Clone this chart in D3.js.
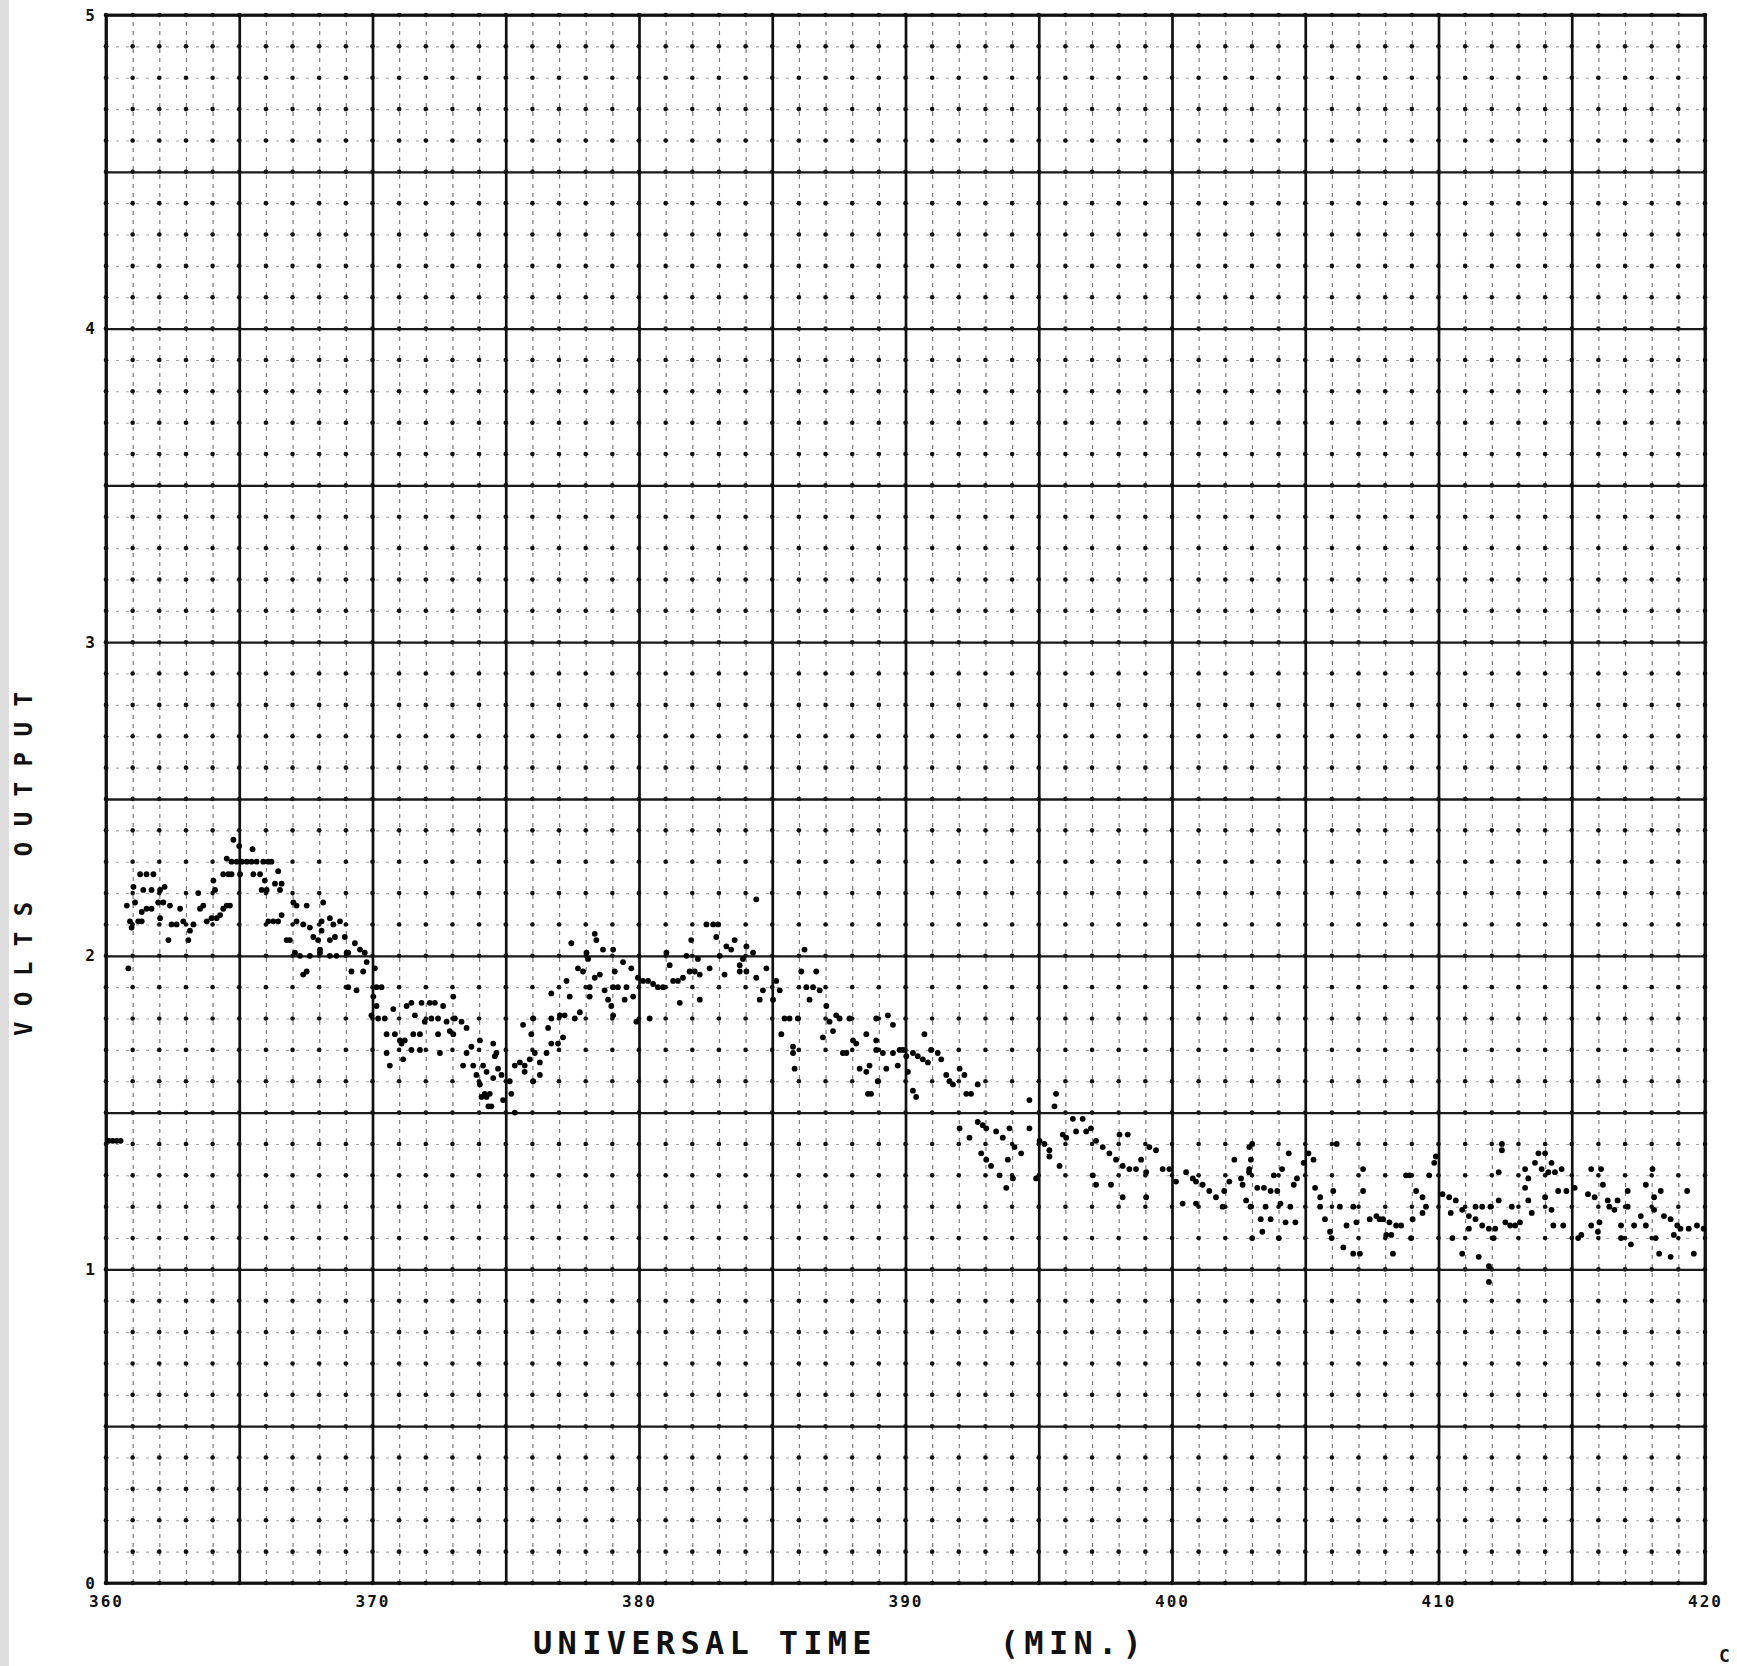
<!DOCTYPE html>
<html>
<head>
<meta charset="utf-8">
<script src="https://cdn.jsdelivr.net/npm/d3@7"></script>
<style>
  body { margin: 0; background: #fff; }
  svg { display: block; }
  .vminor line { stroke: #7a7a7a; stroke-width: 1.2; stroke-dasharray: 4,5; }
  .hminor line { stroke: #a8a8a8; stroke-width: 1.1; stroke-dasharray: 3,7; }
  .vmajor line { stroke: #111; stroke-width: 2.7; }
  .hmajor line { stroke: #1a1a1a; stroke-width: 2.3; }
  .domain { display: none; }
  .lbl text { font-family: "DejaVu Sans Mono", monospace; font-weight: bold; font-size: 16px; fill: #111; letter-spacing: 2px; }
  .title { font-family: "DejaVu Sans Mono", monospace; font-weight: bold; fill: #111; }
</style>
</head>
<body>
<div class="container"></div>
<script>
// tick labels
var xTickLabels = [360, 370, 380, 390, 400, 410, 420];
var yTickLabels = [0, 1, 2, 3, 4, 5];

// samples, [minute, volts]
var run360 = [
  [360.10,1.41],[360.25,1.41],[360.40,1.41],[360.55,1.41],
  [360.78,2.16],[360.84,1.96],[360.90,2.11],[360.96,2.09],[361.03,2.22],[361.09,2.17],[361.21,2.11],[361.28,2.26],
  [361.34,2.14],[361.34,2.11],[361.40,2.21],[361.52,2.26],[361.52,2.15],[361.71,2.21],[361.71,2.15],[361.78,2.26],
  [361.96,2.17],[362.03,2.21],[362.03,2.12],[362.15,2.17],[362.20,2.22],[362.34,2.05],[362.40,2.16],[362.46,2.10],
  [362.65,2.10],[362.78,2.15],[362.90,2.11],[363.09,2.05],[363.15,2.08],[363.28,2.10],[363.46,2.20],[363.53,2.15],
  [363.65,2.16],[363.78,2.11],[363.96,2.12],[364.03,2.24],[364.09,2.21],[364.15,2.12],[364.28,2.13],[364.40,2.15],
  [364.40,2.26],[364.53,2.16],[364.65,2.16],
  [364.53,2.31],[364.71,2.30],[364.90,2.30],[365.09,2.30],[365.28,2.30],[365.46,2.30],[365.65,2.30],[365.90,2.30],
  [366.09,2.30],[366.21,2.30],[364.78,2.37],[365.00,2.35],[365.50,2.34],[364.59,2.26],[364.71,2.26],[365.03,2.26],
  [365.53,2.26],[365.78,2.26],[365.96,2.24],[366.46,2.27],
  [365.84,2.21],[366.03,2.21],[366.34,2.23],[366.59,2.23],[366.53,2.21],[367.03,2.17],[367.15,2.16],[367.53,2.16],
  [368.15,2.17],[366.59,2.13],[366.09,2.11],[366.28,2.11],[366.46,2.11],[367.15,2.11],[367.40,2.10],[367.65,2.09],
  [368.09,2.11],[368.40,2.12],[368.78,2.11],[368.53,2.10],[366.78,2.05],[366.90,2.05],[367.78,2.06],[367.96,2.05],
  [368.09,2.08],[368.40,2.05],[368.59,2.06],[368.96,2.06],[369.34,2.04],[369.53,2.02],[369.71,2.01],[367.09,2.01],
  [367.28,2.00],[367.65,2.00],[368.03,2.01],[368.40,2.00],[368.65,2.00],[369.03,2.01],[368.03,2.02],[367.40,1.94],
  [367.53,1.95],[369.09,2.01],[369.21,1.95],[369.09,1.90],[369.40,1.89],[369.65,1.95],[369.78,1.98]
];

var run370 = [
  [370.09,1.96],[370.15,1.90],[370.34,1.90],[370.03,1.87],[370.15,1.84],[369.96,1.81],[370.21,1.80],[370.46,1.80],
  [370.53,1.75],[370.78,1.83],[370.84,1.75],[371.03,1.73],[371.21,1.73],[371.28,1.84],[371.46,1.85],[371.59,1.81],
  [371.84,1.85],[372.15,1.85],[372.34,1.85],[372.65,1.84],[371.96,1.79],[372.21,1.80],[372.46,1.80],[372.78,1.79],
  [373.03,1.75],[373.09,1.80],[373.34,1.79],[373.53,1.77],[373.03,1.87],[371.53,1.75],[371.78,1.75],[372.46,1.75],
  [372.90,1.76],[370.53,1.69],[370.65,1.65],[371.15,1.67],[371.09,1.72],[371.46,1.70],[371.78,1.70],[372.53,1.69],
  [373.53,1.69],[373.71,1.71],[374.03,1.73],[373.40,1.65],[373.78,1.65],[373.90,1.62],[374.15,1.65],[374.28,1.63],
  [374.03,1.59],[374.09,1.55],[374.28,1.55],[374.46,1.52],[374.53,1.61],[374.59,1.68],
  [374.21,1.56],[374.40,1.56],[374.53,1.72],[374.65,1.69],[374.71,1.64],[374.84,1.62],[374.90,1.54],[374.35,1.52],
  [375.21,1.56],[375.34,1.50],[375.15,1.60],[375.34,1.65],[375.53,1.66],[375.71,1.65],[375.71,1.63],[376.03,1.60],
  [375.90,1.67],[376.09,1.69],[376.28,1.66],[376.28,1.62],[376.53,1.69],[376.71,1.72],[376.96,1.72],[377.15,1.74],
  [375.65,1.78],[375.96,1.75],[376.03,1.80],[376.59,1.77],[376.71,1.80],[376.71,1.88],[377.03,1.81],[377.21,1.81],
  [377.46,2.04],[377.28,1.92],[377.40,1.87],[377.59,1.80],[377.78,1.82],[377.71,1.96],[377.90,1.95],[378.03,2.01],
  [378.09,1.99],[378.15,1.90],[378.15,1.87],[378.34,2.07],[378.40,2.05],[378.34,1.93],[378.53,1.94],[378.65,2.02],
  [378.71,1.89],[378.84,1.86],[378.96,1.84],[379.03,2.02],[379.03,1.90],[379.09,1.95],[379.21,1.90],[379.40,1.98],
  [379.46,1.86],[379.53,1.90],[379.71,1.96],[379.78,1.87],[379.90,1.79],[379.03,1.81]
];

var run380 = [
  [379.96,1.93],[380.15,1.92],[380.34,1.92],[380.53,1.91],[380.71,1.90],[380.90,1.90],[380.40,1.80],[381.03,2.01],
  [381.15,1.97],[381.28,1.92],[381.46,1.92],[381.65,1.93],[381.53,1.85],[381.78,2.00],[381.90,1.95],[382.09,1.95],
  [382.28,1.94],[381.96,2.05],[382.28,1.86],[382.21,1.99],[382.53,2.10],[382.78,2.10],[382.96,2.10],[382.65,1.96],
  [382.90,2.06],[383.03,2.00],[383.21,1.94],[383.28,2.03],[383.46,2.02],[383.59,2.05],[383.78,1.97],[383.90,1.99],
  [384.03,2.03],[384.28,2.01],[383.78,1.95],[384.03,1.95],[384.40,1.93],[384.53,1.86],[384.65,1.89],[384.78,1.96],
  [384.40,2.18],
  [385.03,1.86],[385.15,1.92],[385.34,1.75],[385.28,1.89],[385.46,1.80],[385.65,1.80],[385.78,1.69],[385.84,1.64],
  [385.78,1.71],[385.96,1.80],[386.09,1.95],[386.21,2.02],[386.28,1.90],[386.40,1.86],[386.53,1.90],[386.65,1.95],
  [386.78,1.89],[386.90,1.74],[387.03,1.84],[387.15,1.79],[387.28,1.76],[387.40,1.81],[387.53,1.80],[387.65,1.69],
  [387.78,1.69],[387.90,1.80],[388.03,1.73],[388.15,1.72],[388.28,1.64],[388.53,1.63],[388.59,1.56],[388.90,1.73],
  [388.53,1.75],[388.65,1.65],[388.71,1.56],[388.90,1.80],[388.90,1.70],[388.96,1.60],[389.15,1.69],[389.28,1.64],
  [389.34,1.81],[389.53,1.78],[389.53,1.69],[389.71,1.65],[389.78,1.70],[389.90,1.70]
];

var run390 = [
  [390.03,1.68],[390.09,1.63],[390.28,1.69],[390.28,1.57],[390.40,1.55],[390.46,1.68],[390.65,1.67],[390.71,1.75],
  [390.84,1.66],[390.96,1.70],[391.21,1.69],[391.34,1.67],[391.53,1.62],[391.65,1.60],[391.78,1.59],[392.03,1.64],
  [392.21,1.62],[392.28,1.56],[392.46,1.56],[392.71,1.59],[392.03,1.45],[392.40,1.42],[392.71,1.47],[392.90,1.46],
  [393.03,1.45],[393.40,1.44],[393.65,1.42],[393.90,1.45],[394.09,1.39],[394.34,1.37],[394.65,1.45],[394.65,1.54],
  [392.84,1.37],[393.03,1.35],[393.21,1.33],[393.53,1.30],[393.84,1.35],[394.03,1.29],[393.78,1.26],[394.90,1.29],
  [395.03,1.41],[395.21,1.40],[395.40,1.38],[395.40,1.36],[395.59,1.52],[395.65,1.56],[395.78,1.33],[395.90,1.43],
  [396.03,1.42],[396.28,1.48],[396.40,1.44],[396.65,1.48],[396.78,1.44],[396.96,1.45],[397.15,1.41],[397.40,1.39],
  [397.03,1.30],[397.15,1.27],[397.65,1.37],[397.71,1.27],[397.90,1.35],[398.03,1.43],[398.15,1.33],[398.34,1.43],
  [398.40,1.32],[398.15,1.23],[398.65,1.32],[398.84,1.35],[399.03,1.31],[399.03,1.23],[399.15,1.39],[399.40,1.38],
  [399.65,1.32],[399.90,1.32]
];

var run400 = [
  [400.15,1.28],[400.40,1.21],[400.53,1.31],[400.78,1.29],[400.90,1.28],[400.90,1.21],[401.15,1.27],[401.40,1.25],
  [401.65,1.23],[401.90,1.20],[401.96,1.25],[402.15,1.28],[402.34,1.35],[402.59,1.29],[402.65,1.27],[402.90,1.32],
  [402.90,1.39],[402.96,1.35],[402.78,1.22],
  [403.01,1.40],[402.89,1.31],[403.20,1.26],[403.45,1.26],[403.70,1.25],[403.95,1.25],[402.95,1.20],[403.51,1.20],
  [404.07,1.21],[404.44,1.20],[403.33,1.16],[403.70,1.16],[404.26,1.15],[404.63,1.15],[403.01,1.10],[404.01,1.10],
  [403.39,1.12],[404.38,1.37],[404.13,1.32],[403.82,1.30],[404.69,1.29],[404.57,1.27],[404.94,1.34],
  [405.12,1.37],[405.31,1.35],[405.37,1.26],[405.56,1.23],[405.56,1.20],[405.74,1.16],[405.93,1.12],[405.99,1.10],
  [406.05,1.25],[406.18,1.40],[406.30,1.20],[406.43,1.07],[406.55,1.14],[406.80,1.20],[406.80,1.05],[406.92,1.15],
  [407.05,1.05],[407.17,1.32],[407.17,1.25],[407.42,1.16],[407.67,1.17],[407.79,1.16],[407.92,1.16],[408.04,1.11],
  [408.23,1.11],[408.16,1.15],[408.29,1.05],[408.41,1.14],[408.60,1.14],[408.78,1.30],[408.91,1.30],[408.97,1.10],
  [409.03,1.16],[409.16,1.25],[409.40,1.23],[409.40,1.18],[409.53,1.20],[409.65,1.30],[409.84,1.34],[409.90,1.36]
];

var run410 = [
  [410.15,1.24],[410.40,1.23],[410.65,1.22],[410.46,1.18],[410.52,1.10],[410.89,1.19],[411.14,1.17],[411.39,1.16],
  [411.64,1.14],[411.89,1.13],[410.89,1.05],[411.14,1.13],[411.51,1.04],[411.39,1.20],[411.64,1.20],[411.95,1.20],
  [412.07,1.10],[411.89,1.01],[411.89,0.96],[412.26,1.31],[412.26,1.22],[412.38,1.40],[412.38,1.38],[412.51,1.15],
  [412.69,1.14],[412.75,1.20],[412.88,1.14],[413.06,1.15],[413.25,1.26],[413.25,1.32],[413.37,1.29],[413.50,1.18],
  [413.62,1.34],[413.75,1.37],[413.87,1.32],[414.00,1.37],[414.00,1.23],[414.12,1.31],[414.24,1.34],[414.24,1.19],
  [414.37,1.31],[414.49,1.25],[414.62,1.32],[414.68,1.14],[414.31,1.14],[414.80,1.25],[413.37,1.22],[412.13,1.13],
  [415.11,1.26],[415.24,1.10],[415.36,1.11],[415.61,1.24],[415.73,1.32],[415.86,1.23],[416.10,1.32],[416.17,1.27],
  [415.73,1.14],[416.04,1.15],[415.98,1.12],[416.35,1.22],[416.41,1.20],[416.60,1.19],[416.72,1.22],[416.85,1.14],
  [416.85,1.10],[417.10,1.25],[417.10,1.20],[417.22,1.08],[417.34,1.14],[417.59,1.17],[417.78,1.27],[417.78,1.14],
  [418.03,1.32],[418.09,1.23],[418.09,1.19],[418.15,1.10],[418.28,1.05],[418.34,1.25],[418.46,1.17],[418.71,1.16],
  [418.71,1.04],[418.83,1.11],[418.96,1.14],[419.08,1.13],[419.33,1.25],[419.39,1.13],[419.58,1.05],[419.70,1.14],
  [419.95,1.13]
];

var drawChart = function () {
    var WIDTH = 1737, HEIGHT = 1666;
    var LEFT = 106, RIGHT = 1705, TOP = 15, BOTTOM = 1583;

    var xScale = d3.scaleLinear().domain([360, 420]).range([LEFT, RIGHT]);
    var yScale = d3.scaleLinear().domain([0, 5]).range([BOTTOM, TOP]);

    // grid positions: every minute, every 0.1 volt
    var gridMinutes = d3.range(360, 421, 1);
    var gridVolts = d3.range(0, 51).map(function (i) { return i / 10; });
    var majorMinutes = gridMinutes.filter(function (m) { return m % 5 === 0; });
    var majorVolts = d3.range(0, 11).map(function (i) { return i / 2; });

    var svg = d3.select('.container').append('svg')
        .attr('width', WIDTH)
        .attr('height', HEIGHT);

    svg.append('rect').attr('width', WIDTH).attr('height', HEIGHT).attr('fill', '#fff');
    svg.append('rect').attr('width', 9).attr('height', HEIGHT).attr('fill', '#dedede');

    // faint minor grid lines
    svg.append('g').attr('class', 'hminor')
        .attr('transform', 'translate(' + LEFT + ',0)')
        .call(d3.axisLeft(yScale).tickValues(gridVolts).tickSize(-(RIGHT - LEFT)).tickFormat(''));
    svg.append('g').attr('class', 'vminor')
        .attr('transform', 'translate(0,' + BOTTOM + ')')
        .call(d3.axisBottom(xScale).tickValues(gridMinutes).tickSize(-(BOTTOM - TOP)).tickFormat(''));

    // dots at every grid crossing
    var crossings = [];
    gridMinutes.forEach(function (m) {
        gridVolts.forEach(function (v) { crossings.push([m, v]); });
    });
    svg.append('g').selectAll('circle')
        .data(crossings)
        .join('circle')
        .attr('cx', function (d) { return xScale(d[0]); })
        .attr('cy', function (d) { return yScale(d[1]); })
        .attr('r', 2.3)
        .attr('fill', '#111');

    // heavy lines
    svg.append('g').attr('class', 'hmajor')
        .attr('transform', 'translate(' + LEFT + ',0)')
        .call(d3.axisLeft(yScale).tickValues(majorVolts).tickSize(-(RIGHT - LEFT)).tickFormat(''));
    svg.append('g').attr('class', 'vmajor')
        .attr('transform', 'translate(0,' + BOTTOM + ')')
        .call(d3.axisBottom(xScale).tickValues(majorMinutes).tickSize(-(BOTTOM - TOP)).tickFormat(''));

    svg.append('rect')
        .attr('x', LEFT).attr('y', TOP)
        .attr('width', RIGHT - LEFT).attr('height', BOTTOM - TOP)
        .attr('fill', 'none').attr('stroke', '#111').attr('stroke-width', 2.8);

    // tick labels
    svg.append('g').attr('class', 'lbl')
        .attr('transform', 'translate(0,' + BOTTOM + ')')
        .call(d3.axisBottom(xScale).tickValues(xTickLabels).tickSize(0).tickPadding(13).tickFormat(d3.format('d')));
    svg.append('g').attr('class', 'lbl')
        .attr('transform', 'translate(' + LEFT + ',0)')
        .call(d3.axisLeft(yScale).tickValues(yTickLabels).tickSize(0).tickPadding(9).tickFormat(d3.format('d')));
    svg.selectAll('.lbl .tick line').remove();

    // data
    var samples = run360.concat(run370, run380, run390, run400, run410);
    svg.append('g').selectAll('circle')
        .data(samples)
        .join('circle')
        .attr('cx', function (d) { return xScale(d[0]); })
        .attr('cy', function (d) { return yScale(d[1]); })
        .attr('r', 2.9)
        .attr('fill', '#000');

    // axis titles
    svg.append('text').attr('class', 'title')
        .attr('x', 533).attr('y', 1654)
        .attr('font-size', 32).attr('letter-spacing', 5.3)
        .attr('xml:space', 'preserve')
        .style('white-space', 'pre')
        .text('UNIVERSAL TIME     (MIN.)');

    svg.append('text').attr('class', 'title')
        .attr('transform', 'translate(32,1036) rotate(-90)')
        .attr('font-size', 24).attr('letter-spacing', 15.5)
        .text('VOLTS OUTPUT');

    svg.append('text').attr('class', 'title')
        .attr('x', 1719).attr('y', 1662)
        .attr('font-size', 18)
        .text('C');
};

window.onload = drawChart;
</script>
</body>
</html>
